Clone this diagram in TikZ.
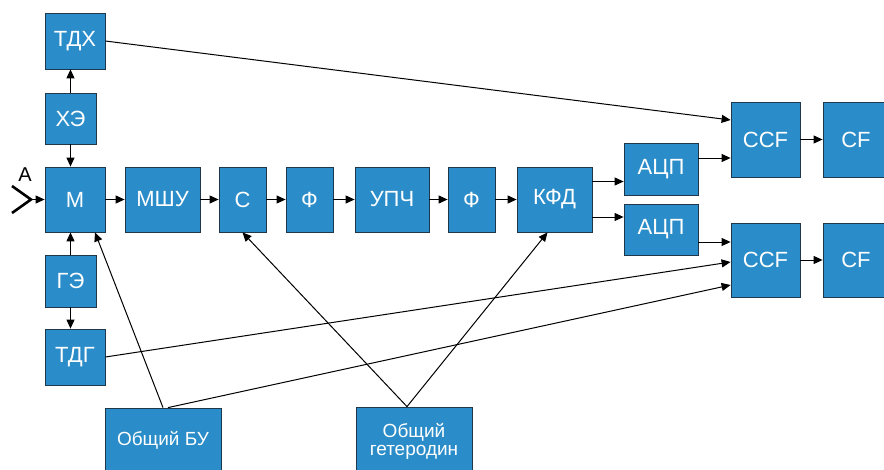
\documentclass[tikz,border=0pt]{standalone}
\usepackage{fontspec}
\setmainfont{Liberation Sans}
\usetikzlibrary{arrows.meta}
\definecolor{blockblue}{RGB}{42,140,200}
\definecolor{blockedge}{RGB}{30,55,75}
\tikzset{
  blk/.style={rectangle, fill=blockblue, draw=blockedge, line width=0.8pt,
    inner sep=0pt, text=white, font=\fontsize{22}{24}\selectfont},
  smallblk/.style={blk, font=\fontsize{19}{21}\selectfont, align=center},
  arr/.style={-{Triangle[length=9pt,width=8pt]}, line width=1pt, black}
}
\begin{document}
\begin{tikzpicture}[x=1pt,y=-1pt]
\useasboundingbox (0,0) rectangle (884,469);

% left column
\node[blk, minimum width=60pt, minimum height=56pt] (tdx) at (75,41) {ТДХ};
\node[blk, minimum width=51pt, minimum height=51pt] (xe) at (70.5,118.5) {ХЭ};
\node[blk, minimum width=60pt, minimum height=65pt] (m) at (75,199.5) {М};
\node[blk, minimum width=51pt, minimum height=52pt] (ge) at (70.5,281) {ГЭ};
\node[blk, minimum width=60pt, minimum height=56pt] (tdg) at (75,357) {ТДГ};

% main chain
\node[blk, minimum width=75pt, minimum height=65pt] (mshu) at (162.5,199.5) {МШУ};
\node[blk, minimum width=47pt, minimum height=65pt] (c) at (242.5,199.5) {С};
\node[blk, minimum width=47pt, minimum height=65pt] (f1) at (309.5,199.5) {Ф};
\node[blk, minimum width=74pt, minimum height=65pt] (upch) at (392,199.5) {УПЧ};
\node[blk, minimum width=47pt, minimum height=65pt] (f2) at (471.5,199.5) {Ф};
\node[blk, minimum width=75pt, minimum height=65pt] (kfd) at (554.5,199.5) {КФД};

% converters and correlators
\node[blk, minimum width=74pt, minimum height=52pt] (adc1) at (661,169) {АЦП};
\node[blk, minimum width=74pt, minimum height=51pt] (adc2) at (661,229.5) {АЦП};
\node[blk, minimum width=69pt, minimum height=75pt] (ccf1) at (765.5,139.5) {CCF};
\node[blk, minimum width=69pt, minimum height=74pt] (ccf2) at (765.5,260) {CCF};
\node[blk, minimum width=66pt, minimum height=75pt] (cf1) at (856,139.5) {CF};
\node[blk, minimum width=66pt, minimum height=74pt] (cf2) at (856,260) {CF};

% common units
\node[smallblk, minimum width=116pt, minimum height=64pt] (obu) at (163,440) {Общий БУ};
\node[smallblk, minimum width=116pt, minimum height=68pt] (oget) at (414,441) {Общий\\[-3pt]гетеродин};

% antenna
\coordinate (ant) at (31,199.5);
\draw[line width=2.6pt, line join=miter] (12,186) -- (ant) -- (12,213);
\node[font=\fontsize{20}{22}\selectfont] (alabel) at (25,175) {А};
\draw[arr] (ant) -- (m.west);

% left column links
\draw[arr] (xe.north) -- (xe.north |- tdx.south);
\draw[arr] (xe.south) -- (xe.south |- m.north);
\draw[arr] (ge.north) -- (ge.north |- m.south);
\draw[arr] (ge.south) -- (ge.south |- tdg.north);

% main chain links
\draw[arr] (m) -- (mshu);
\draw[arr] (mshu) -- (c);
\draw[arr] (c) -- (f1);
\draw[arr] (f1) -- (upch);
\draw[arr] (upch) -- (f2);
\draw[arr] (f2) -- (kfd);

% detector outputs
\draw[arr] ([yshift=18pt]kfd.east) coordinate (k1) -- (k1 -| adc1.west);
\draw[arr] ([yshift=-17.5pt]kfd.east) coordinate (k2) -- (k2 -| adc2.west);
\draw[arr] ([yshift=11pt]adc1.east) coordinate (a1) -- (a1 -| ccf1.west);
\draw[arr] ([yshift=-12.5pt]adc2.east) coordinate (a2) -- (a2 -| ccf2.west);
\draw[arr] (ccf1) -- (cf1);
\draw[arr] (ccf2) -- (cf2);

% long links to correlators
\draw[arr] (tdx.east) -- ([yshift=19.5pt]ccf1.west);
\draw[arr] (tdg.east) -- ([yshift=-2pt]ccf2.west);
\draw[arr] ([xshift=5pt]obu.north) -- ([yshift=-25pt]ccf2.west);
\draw[arr] (obu.north) -- ([xshift=20pt]m.south);

% local oscillator links
\draw[arr] ([xshift=-7pt]oget.north) -- (c.south);
\draw[arr] ([xshift=-7pt]oget.north) -- ([xshift=-7pt]kfd.south);
\end{tikzpicture}
\end{document}
